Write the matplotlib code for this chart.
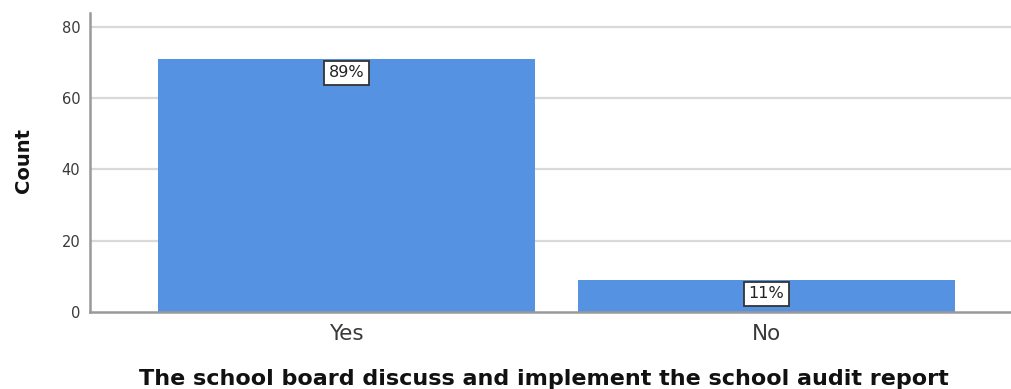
import matplotlib
matplotlib.use("Agg")
import matplotlib.pyplot as plt

plt.rcParams['font.family'] = ['DejaVu Sans']

categories = ["Yes", "No"]
counts = [71, 9]
y_ticks = [0, 20, 40, 60, 80]
x_title = "The school board discuss and implement the school audit report"
y_title = "Count"

W, H = 1011, 389
fig = plt.figure(figsize=(W / 100, H / 100), dpi=100)
fig.patch.set_facecolor("white")

left, right, bottom, top = 90, 1011, 312, 13
ax = fig.add_axes([left / W, 1 - bottom / H, (right - left) / W, (bottom - top) / H])

xpos = list(range(len(categories)))
ax.bar(xpos, counts, width=0.898, color="#5592e2", edgecolor="none", zorder=2)

ax.set_xlim(-0.611, 1.582)
ax.set_ylim(0, 83.9)

ax.set_yticks(y_ticks)
ax.set_yticklabels([str(t) for t in y_ticks], fontsize=10.5, color="#3a3a3a")
ax.set_xticks(xpos)
ax.set_xticklabels(categories, fontsize=15.5, color="#3a3a3a")
ax.tick_params(axis="both", length=0)
ax.tick_params(axis="x", pad=9)
ax.tick_params(axis="y", pad=7)

for t in y_ticks[1:]:
    ax.axhline(t, color="#d9d9d9", lw=1.6, zorder=1)

for side in ("top", "right"):
    ax.spines[side].set_visible(False)
for side in ("left", "bottom"):
    ax.spines[side].set_color("#999999")
    ax.spines[side].set_linewidth(1.8)

total = sum(counts)
for x, c in zip(xpos, counts):
    pct = round(c / total * 100)
    ax.annotate(f"{pct}%", xy=(x, c), xytext=(0, -10), textcoords="offset points",
                ha="center", va="center", fontsize=11.5, color="#222222",
                bbox=dict(boxstyle="square,pad=0.3", fc="white", ec="#333333", lw=1.3),
                zorder=3)

fig.text(23 / W, 1 - 160 / H, y_title, rotation=90, ha="center", va="center",
         fontsize=14, fontweight="bold", color="#111111")
fig.text(544 / W, 1 - 385 / H, x_title, ha="center", va="baseline",
         fontsize=16, fontweight="bold", color="#111111")

fig.savefig("out.png", dpi=100, facecolor="white")
